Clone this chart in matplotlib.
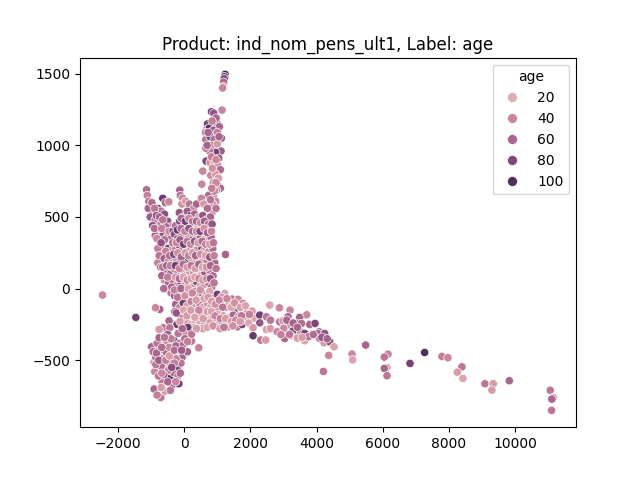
import pandas as pd
import seaborn as sns
from matplotlib import pyplot as plt

# points: (component 1, component 2, age)
top_arm = [
    (1235, 1495, 112), (1215, 1480, 85), (1205, 1465, 75), (1190, 1440, 60), (1175, 1410, 35), (1160, 1400, 40),
    (1143, 1246, 40), (821, 1234, 85), (890, 1225, 70), (973, 1157, 75), (1060, 1130, 60), (700, 1150, 80),
    (680, 1110, 55), (640, 1090, 40), (760, 1120, 100), (870, 1105, 65), (1000, 1090, 45), (1120, 1050, 70),
    (650, 1040, 50), (780, 1060, 85), (900, 1040, 55), (860, 1000, 40), (1000, 1010, 30), (1110, 960, 65),
    (950, 950, 85), (760, 960, 50), (650, 980, 45), (1040, 910, 70), (660, 890, 80), (780, 880, 35),
    (900, 880, 25), (1010, 860, 35), (1090, 830, 55), (800, 790, 40), (940, 800, 30), (1030, 770, 30),
    (880, 740, 35), (1000, 720, 85), (560, 820, 40), (880, 650, 45), (950, 610, 40), (1090, 700, 60),
    (529, 729, 40), (860, 590, 35), (980, 687, 35), (740, 652, 55), (870, 540, 40), (720, 1090, 60),
    (960, 1190, 60), (840, 1170, 45), (1050, 1060, 60), (690, 1000, 60), (820, 920, 45), (960, 900, 40),
    (850, 840, 35), (960, 740, 40), (910, 680, 40), (830, 700, 45), (790, 620, 50), (960, 560, 50),
]
left_arm = [
    (-1142, 690, 55), (-1120, 650, 45), (-1070, 610, 50), (-1010, 570, 40), (-950, 530, 60), (-1030, 500, 65),
    (-880, 480, 45), (-650, 630, 90), (-570, 600, 60), (-468, 606, 40), (-800, 560, 85), (-700, 540, 50),
    (-600, 520, 75), (-960, 440, 70), (-810, 420, 35), (-700, 450, 55), (-500, 470, 70), (-420, 430, 50),
    (-880, 370, 60), (-760, 340, 45), (-640, 380, 70), (-520, 360, 40), (-400, 350, 60), (-720, 270, 60),
    (-610, 290, 50), (-800, 280, 45), (-480, 280, 85), (-360, 270, 40), (-1090, 560, 60), (-980, 600, 55),
    (-900, 560, 50), (-840, 510, 70), (-750, 500, 60), (-650, 480, 50), (-550, 430, 60), (-900, 420, 55),
    (-830, 350, 40), (-680, 420, 45), (-600, 340, 55), (-460, 400, 40), (-340, 400, 80), (-700, 320, 70),
    (-560, 260, 45), (-800, 180, 45), (-720, 150, 60), (-760, 230, 50),
]
body = [
    (600, -150, 10), (-136, 687, 60), (-120, 650, 50), (-45, 630, 45), (-70, 590, 35), (40, 610, 30), (150, 590, 50),
    (280, 560, 40), (370, 590, 60), (520, 630, 40), (590, 590, 30), (700, 560, 55), (-150, 530, 70),
    (-30, 500, 40), (90, 540, 65), (200, 510, 100), (310, 520, 60), (440, 500, 30), (560, 510, 70),
    (680, 480, 45), (790, 500, 60), (-260, 440, 55), (-140, 470, 80), (-30, 430, 30), (80, 450, 50),
    (190, 400, 45), (300, 460, 70), (420, 430, 30), (530, 440, 25), (650, 400, 40), (760, 420, 85),
    (-300, 380, 75), (-200, 350, 60), (-90, 380, 40), (20, 340, 70), (120, 370, 30), (240, 340, 85),
    (350, 370, 25), (470, 350, 60), (590, 340, 30), (700, 330, 50), (810, 360, 60), (-270, 280, 45),
    (-150, 300, 90), (-50, 270, 50), (70, 290, 30), (170, 260, 60), (270, 300, 25), (390, 270, 40),
    (520, 290, 85), (620, 270, 30), (740, 260, 40), (860, 280, 55), (1245, 238, 60), (-610, 210, 60),
    (-480, 190, 40), (-370, 220, 70), (-240, 200, 30), (-120, 180, 50), (0, 220, 40), (110, 190, 100),
    (220, 210, 35), (340, 180, 25), (450, 220, 40), (570, 200, 30), (690, 190, 50), (800, 210, 40),
    (920, 180, 60), (-540, 120, 50), (-420, 100, 70), (-310, 140, 45), (-190, 110, 60), (-70, 130, 35),
    (50, 90, 50), (160, 120, 30), (280, 100, 40), (400, 130, 25), (510, 90, 30), (630, 110, 70),
    (750, 130, 45), (870, 90, 55), (-600, 60, 40), (-470, 40, 60), (-350, 60, 55), (-230, 20, 40),
    (-110, 50, 80), (10, 20, 30), (130, 40, 60), (250, 10, 30), (370, 50, 85), (490, 20, 30),
    (600, 30, 40), (720, 40, 50), (830, 10, 60), (-400, -30, 50), (-290, -50, 70), (-170, -20, 30),
    (-60, -60, 60), (60, -30, 40), (180, -70, 25), (300, -20, 50), (420, -60, 30), (540, -30, 90),
    (650, -50, 45), (770, -20, 25), (891, -68, 50), (1000, -40, 85), (1224, -34, 25), (1130, -60, 30),
    (1444, -73, 50), (1626, -75, 40), (-260, -110, 60), (-140, -130, 40), (-30, -100, 85), (90, -120, 30),
    (210, -90, 45), (330, -130, 30), (450, -100, 60), (570, -130, 25), (690, -100, 35), (800, -130, 30),
    (972, -138, 40), (1100, -110, 30), (1230, -130, 85), (1350, -100, 25), (1547, -145, 70), (1776, -103, 40),
    (-100, -190, 60), (30, -170, 30), (150, -200, 25), (270, -160, 50), (390, -190, 30), (510, -170, 40),
    (640, -200, 25), (760, -170, 40), (882, -208, 40), (1020, -180, 30), (1180, -190, 25), (1344, -201, 30),
    (1480, -185, 60), (1650, -190, 30), (2048, -157, 30), (1900, -170, 35), (100, -240, 30), (220, -250, 25),
    (350, -230, 30), (480, -240, 25), (620, -250, 40), (760, -240, 30), (991, -255, 25), (1150, -240, 40),
    (1314, -267, 45), (1607, -267, 50), (1849, -227, 30), (1750, -250, 85), (2079, -208, 25), (-740, -145, 60),
    (-870, -134, 40), (-85, -208, 50), (-287, -162, 60), (-459, -225, 60), (-220, -250, 85),
]
body_fill = [
    (-90, 490, 60), (30, 470, 85), (140, 490, 40), (250, 470, 50), (370, 470, 60), (490, 460, 40),
    (610, 470, 65), (730, 450, 50), (840, 450, 70), (-210, 410, 90), (-100, 420, 55), (20, 400, 45),
    (140, 420, 70), (250, 400, 55), (370, 400, 40), (480, 400, 80), (600, 420, 35), (700, 390, 60),
    (820, 400, 40), (-350, 320, 50), (-240, 320, 40), (-130, 340, 65), (-20, 310, 85), (90, 330, 50),
    (190, 310, 40), (310, 330, 70), (420, 320, 30), (540, 330, 55), (650, 310, 45), (760, 310, 30),
    (880, 320, 50), (-440, 230, 55), (-320, 240, 80), (-200, 250, 35), (-90, 220, 60), (30, 250, 30),
    (130, 230, 45), (250, 250, 30), (340, 230, 60), (500, 240, 35), (640, 230, 25), (770, 220, 70),
    (900, 230, 45), (-660, 150, 50), (-530, 160, 65), (-420, 160, 45), (-270, 160, 85), (-150, 140, 40),
    (-30, 170, 55), (90, 150, 30), (210, 160, 50), (330, 140, 30), (440, 170, 60), (550, 150, 25),
    (670, 150, 35), (790, 160, 60), (960, 140, 50), (-680, 90, 60), (-500, 80, 45), (-380, 10, 60),
    (-270, 80, 30), (-150, 70, 55), (-30, 80, 25), (90, 60, 40), (210, 70, 30), (320, 80, 25),
    (450, 70, 45), (560, 60, 30), (680, 70, 40), (790, 70, 70), (900, 40, 50), (-620, 0, 55),
    (-300, -10, 45), (-200, -60, 50), (-100, 0, 60), (20, -50, 35), (120, 0, 25), (240, -30, 40),
    (360, -80, 30), (480, -10, 35), (600, -70, 25), (720, -60, 30), (830, -90, 30), (940, -110, 35),
    (1060, -80, 40), (1160, -130, 50), (1290, -70, 40), (1420, -130, 25), (1520, -100, 35), (1700, -130, 30),
    (1850, -120, 25), (1970, -180, 45), (-240, -170, 70), (-130, -230, 30), (-20, -150, 25), (80, -190, 30),
    (200, -150, 30), (320, -200, 25), (440, -150, 40), (570, -210, 30), (700, -160, 30), (820, -160, 25),
    (930, -190, 40), (1090, -210, 45), (1250, -210, 30), (1420, -230, 30), (1560, -220, 40), (1730, -190, 50),
    (1950, -240, 25), (50, -280, 25), (170, -290, 30), (290, -270, 25), (420, -280, 40), (560, -280, 30),
    (690, -270, 25), (870, -260, 35), (1080, -280, 30), (1470, -260, 35), (1200, -270, 50), (1690, -230, 30),
]
low_lobe = [
    (-710, -760, 50), (-912, -701, 60), (-822, -743, 45), (-580, -715, 30), (-670, -652, 50), (-356, -671, 70),
    (-166, -664, 85), (-438, -627, 100), (-317, -587, 60), (-187, -608, 50), (-589, -557, 30), (-205, -546, 85),
    (-891, -580, 40), (-417, -518, 70), (-921, -515, 30), (-870, -478, 50), (-640, -487, 40), (-66, -480, 60),
    (-356, -464, 50), (-166, -429, 40), (97, -441, 60), (-991, -406, 60), (-822, -382, 50), (-761, -343, 60),
    (-538, -366, 40), (-317, -359, 90), (-136, -382, 50), (218, -366, 50), (-640, -273, 50), (-438, -273, 50),
    (-761, -285, 30), (106, -271, 90), (-6, -313, 40), (218, -318, 50), (368, -278, 30), (-187, -313, 50),
    (-940, -440, 55), (-750, -430, 45), (-550, -440, 60), (-450, -410, 40), (-250, -400, 60), (-30, -390, 55),
    (-700, -540, 55), (-480, -570, 45), (-780, -610, 50), (-620, -600, 70), (-100, -520, 50), (-250, -490, 40),
    (-840, -450, 60), (-500, -650, 60), (438, -413, 40), (-680, -410, 55), (-500, -320, 65), (-400, -350, 45),
    (-600, -340, 50), (-860, -530, 50), (-770, -500, 65), (-560, -500, 45), (-450, -470, 30), (-300, -430, 55),
    (-80, -430, 65), (-300, -520, 45), (-680, -590, 40), (-380, -550, 75), (-120, -590, 60), (-260, -650, 40),
    (-420, -710, 50), (-700, -690, 30), (20, -350, 55), (100, -370, 45), (-60, -280, 60),
]
right_arm = [
    (2583, -115, 25), (2876, -134, 40), (3196, -150, 40), (3701, -183, 40), (3489, -201, 60), (3136, -197, 60),
    (2583, -220, 50), (2885, -232, 50), (2985, -225, 30), (3390, -243, 70), (3541, -243, 55), (3792, -250, 60),
    (3952, -243, 80), (3106, -255, 35), (2583, -285, 30), (2815, -299, 40), (3006, -278, 40), (3287, -295, 80),
    (3511, -302, 45), (3640, -313, 85), (4073, -302, 60), (4034, -313, 60), (4245, -313, 70), (3036, -348, 60),
    (3226, -329, 25), (3420, -345, 30), (3640, -364, 25), (3752, -336, 50), (4094, -348, 50), (4224, -378, 30),
    (4396, -371, 80), (2281, -185, 85), (2483, -197, 50), (2604, -220, 50), (2281, -239, 70), (2483, -285, 25),
    (2604, -280, 30), (2079, -273, 30), (2079, -329, 90), (2311, -359, 50), (2462, -359, 30), (2804, -301, 40),
    (4527, -406, 25), (3100, -220, 60), (3290, -240, 60), (3420, -270, 60), (3180, -320, 50), (3560, -340, 30),
    (4160, -340, 70), (4320, -350, 60), (3900, -320, 55), (2920, -320, 45),
]
outliers = [
    (-2471, -45, 40), (-1465, -201, 85), (5483, -394, 60), (5070, -457, 40), (5091, -497, 25), (4366, -466, 40),
    (4205, -578, 50), (6158, -457, 40), (6047, -478, 50), (6128, -550, 25), (6047, -557, 60), (6128, -608, 50),
    (6823, -522, 85), (7266, -446, 100), (7789, -473, 45), (7970, -482, 40), (8393, -546, 50), (8254, -583, 30),
    (8423, -627, 25), (9088, -664, 50), (9341, -664, 30), (9299, -708, 30), (9825, -643, 60), (11063, -710, 50),
    (11160, -760, 25), (11112, -771, 60), (11103, -850, 50),
]

points = top_arm + left_arm + body + body_fill + low_lobe + right_arm + outliers
df = pd.DataFrame(points, columns=['x', 'y', 'age'])

fig, ax = plt.subplots(figsize=(6.4, 4.8), dpi=100)
sns.scatterplot(data=df, x='x', y='y', hue='age', hue_norm=(2, 116), ax=ax)
ax.set_xlabel('')
ax.set_ylabel('')
ax.set_title('Product: ind_nom_pens_ult1, Label: age')
# legend dots are bigger in the reference
for h in ax.get_legend().legend_handles:
    h.set_markersize(7.2)
    h.set_markeredgecolor('white')
plt.savefig('out.png')
